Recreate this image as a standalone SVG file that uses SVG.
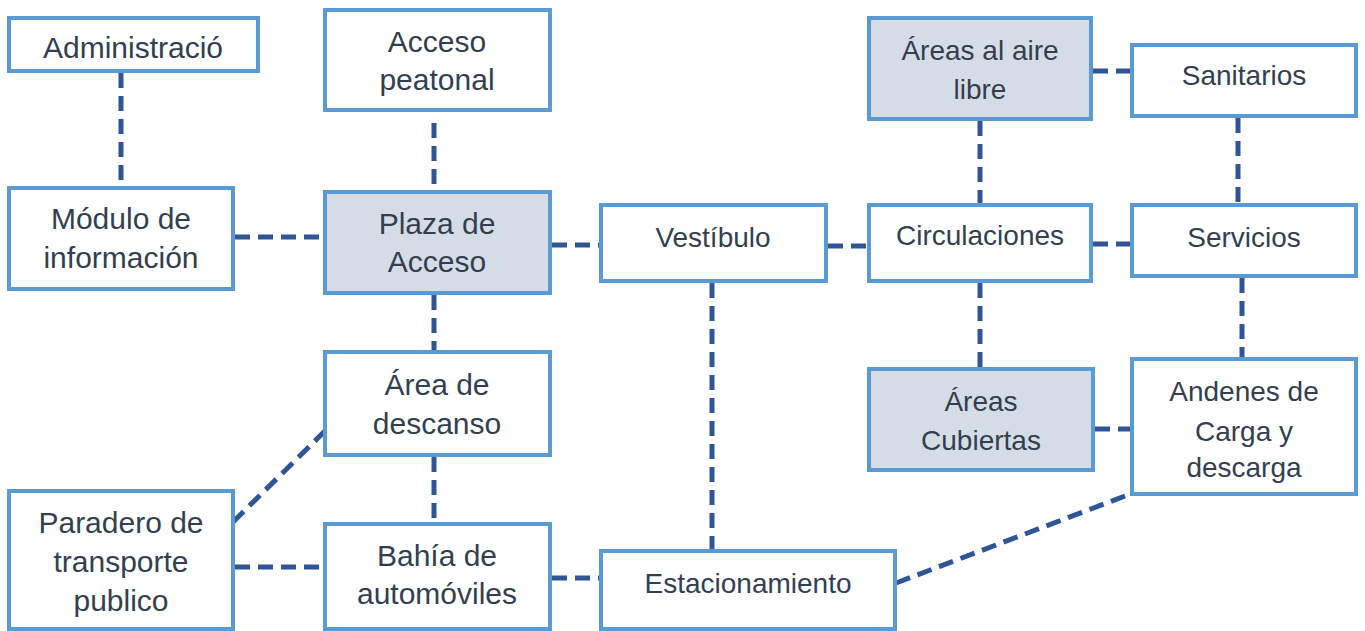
<svg xmlns="http://www.w3.org/2000/svg" width="1365" height="631" viewBox="0 0 1365 631">
<style>
.box{fill:#FFFFFF;stroke:#5B9BD5;stroke-width:4}
.hl{fill:#D6DCE5}
.t{font-family:"Liberation Sans",Arial,sans-serif;font-size:28px;fill:#333F50;text-anchor:middle}
.w{font-size:30px}
.c{stroke:#2F5597;stroke-width:5;stroke-dasharray:15 8;fill:none}
</style>
<rect width="1365" height="631" fill="#FFFFFF"/>
<g id="connectors">
<line class="c" x1="121" y1="73" x2="121" y2="186"/>
<line class="c" x1="434" y1="123" x2="434" y2="191"/>
<line class="c" x1="235" y1="237" x2="324" y2="237"/>
<line class="c" x1="552" y1="245" x2="600" y2="245"/>
<line class="c" x1="434" y1="295" x2="434" y2="351"/>
<line class="c" x1="434" y1="457" x2="434" y2="523"/>
<line class="c" x1="233" y1="522" x2="326" y2="430"/>
<line class="c" x1="235" y1="567" x2="324" y2="567"/>
<line class="c" x1="552" y1="578" x2="600" y2="578"/>
<line class="c" x1="712" y1="283" x2="712" y2="550"/>
<line class="c" x1="828" y1="246" x2="868" y2="246"/>
<line class="c" x1="980" y1="121" x2="980" y2="204"/>
<line class="c" x1="1093" y1="71" x2="1131" y2="71"/>
<line class="c" x1="1238" y1="118" x2="1238" y2="204"/>
<line class="c" x1="1093" y1="244" x2="1131" y2="244"/>
<line class="c" x1="980" y1="283" x2="980" y2="368"/>
<line class="c" x1="1242" y1="278" x2="1242" y2="358"/>
<line class="c" x1="1095" y1="429" x2="1131" y2="429"/>
<line class="c" x1="896" y1="583" x2="1133" y2="493"/>
</g>
<g id="n-administracio"><rect class="box" x="9" y="18" width="249" height="53"/><text class="t w" x="133" y="58">Administració</text></g>
<g id="n-acceso-peatonal"><rect class="box" x="325" y="10" width="225" height="100"/><text class="t w" x="437" y="52">Acceso</text><text class="t w" x="437" y="90">peatonal</text></g>
<g id="n-modulo"><rect class="box" x="9" y="188" width="224" height="101"/><text class="t w" x="121" y="229">Módulo de</text><text class="t w" x="121" y="268">información</text></g>
<g id="n-plaza"><rect class="box hl" x="325" y="192" width="225" height="101"/><text class="t w" x="437" y="234">Plaza de</text><text class="t w" x="437" y="272">Acceso</text></g>
<g id="n-vestibulo"><rect class="box" x="601" y="205" width="225" height="76"/><text class="t" x="713" y="247">Vestíbulo</text></g>
<g id="n-aire-libre"><rect class="box hl" x="869" y="18" width="222" height="101"/><text class="t" x="980" y="60">Áreas al aire</text><text class="t" x="980" y="99">libre</text></g>
<g id="n-sanitarios"><rect class="box" x="1132" y="45" width="224" height="71"/><text class="t" x="1244" y="85">Sanitarios</text></g>
<g id="n-circulaciones"><rect class="box" x="869" y="205" width="222" height="76"/><text class="t" x="980" y="245">Circulaciones</text></g>
<g id="n-servicios"><rect class="box" x="1132" y="205" width="224" height="71"/><text class="t" x="1244" y="247">Servicios</text></g>
<g id="n-cubiertas"><rect class="box hl" x="869" y="369" width="224" height="101"/><text class="t" x="981" y="411">Áreas</text><text class="t" x="981" y="450">Cubiertas</text></g>
<g id="n-andenes"><rect class="box" x="1132" y="359" width="224" height="135"/><text class="t" x="1244" y="401">Andenes de</text><text class="t" x="1244" y="441">Carga y</text><text class="t" x="1244" y="477">descarga</text></g>
<g id="n-descanso"><rect class="box" x="325" y="352" width="225" height="103"/><text class="t w" x="437" y="395">Área de</text><text class="t w" x="437" y="434">descanso</text></g>
<g id="n-paradero"><rect class="box" x="9" y="491" width="224" height="138"/><text class="t w" x="121" y="533">Paradero de</text><text class="t w" x="121" y="572">transporte</text><text class="t w" x="121" y="611">publico</text></g>
<g id="n-bahia"><rect class="box" x="325" y="524" width="225" height="105"/><text class="t w" x="437" y="566">Bahía de</text><text class="t w" x="437" y="604">automóviles</text></g>
<g id="n-estacionamiento"><rect class="box" x="601" y="551" width="294" height="78"/><text class="t" x="748" y="593">Estacionamiento</text></g>
</svg>
